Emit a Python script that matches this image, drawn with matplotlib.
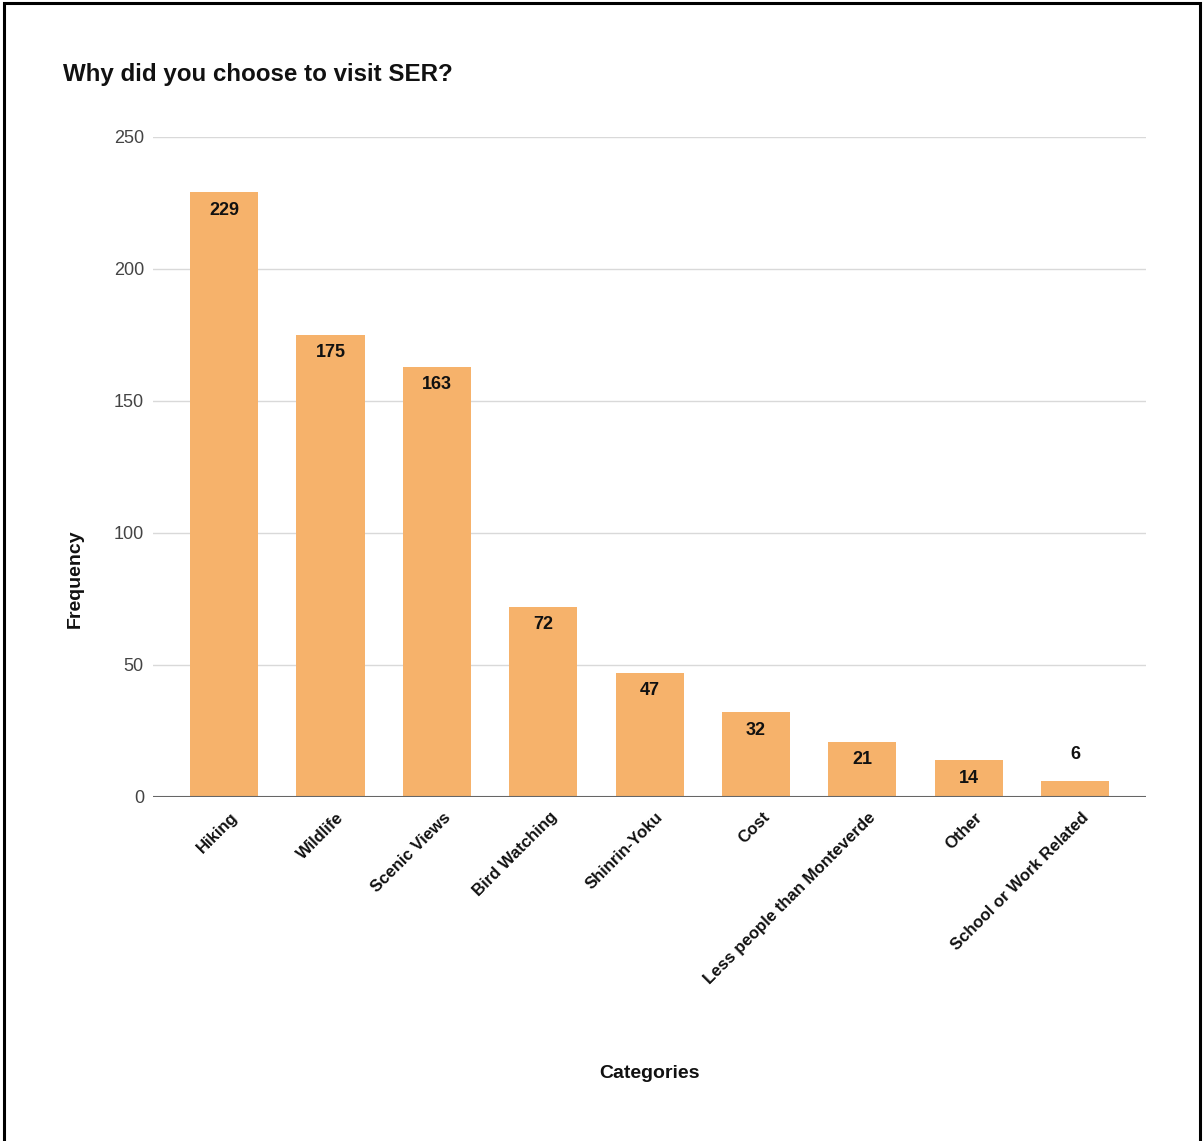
import matplotlib; matplotlib.use("Agg")
import matplotlib.pyplot as plt
import matplotlib.transforms as mtrans
from matplotlib.patches import Rectangle

plt.rcParams.update({"font.family": ["Liberation Sans", "DejaVu Sans"]})

categories = ["Hiking", "Wildlife", "Scenic Views", "Bird Watching", "Shinrin-Yoku",
              "Cost", "Less people than Monteverde", "Other", "School or Work Related"]
counts = [229, 175, 163, 72, 47, 32, 21, 14, 6]
yticks = [0, 50, 100, 150, 200, 250]

BAR = "#F6B26B"

fig = plt.figure(figsize=(12.04, 11.41), dpi=100)
ax = fig.add_axes([0.127, 0.3015, 0.825, 0.5786])

x = range(len(categories))
ax.bar(x, counts, width=0.64, color=BAR, zorder=3)

ax.set_xlim(-0.67, len(categories) - 1 + 0.67)
ax.set_ylim(0, 250)
ax.set_yticks(yticks)
ax.yaxis.grid(True, color="#d9d9d9", lw=1, zorder=0)
ax.axhline(0, color="#666666", lw=1.5, zorder=4)
for s in ax.spines.values():
    s.set_visible(False)
ax.tick_params(axis="y", length=0, pad=6.5, labelsize=13, labelcolor="#444444")
ax.tick_params(axis="x", length=0, pad=9)
ax.set_xticks(list(x))
ax.set_xticklabels(categories, rotation=45, ha="right", rotation_mode="anchor",
                   fontsize=12.1, fontweight="bold", color="#111111")
shift = mtrans.ScaledTranslation(6 / 100, 0, fig.dpi_scale_trans)
for lbl in ax.get_xticklabels():
    lbl.set_transform(lbl.get_transform() + shift)

# value labels: inside the bar top, above the bar when it is too short
for i, v in enumerate(counts):
    dy = -13 if v >= 10 else 19
    ax.annotate(str(v), (i, v), xytext=(0, dy), textcoords="offset points",
                ha="center", va="center", fontsize=13, fontweight="bold",
                color="#111111", zorder=5)

fig.text(63 / 1204, 1 - 75 / 1141, "Why did you choose to visit SER?",
         fontsize=17.4, fontweight="bold", ha="left", va="center", color="#111111")
fig.text(75 / 1204, 1 - 579 / 1141, "Frequency", rotation=90, fontsize=14,
         fontweight="bold", ha="center", va="center", color="#111111")
fig.text(650 / 1204, 1 - 1073 / 1141, "Categories", fontsize=14,
         fontweight="bold", ha="center", va="center", color="#111111")

# outer frame
fig.patches.append(Rectangle((4 / 1204, -0.05), 1 - 8 / 1204, 1.05 - 3 / 1141,
                             transform=fig.transFigure, fill=False,
                             edgecolor="black", lw=2.2))

fig.savefig("out.png", dpi=100)
